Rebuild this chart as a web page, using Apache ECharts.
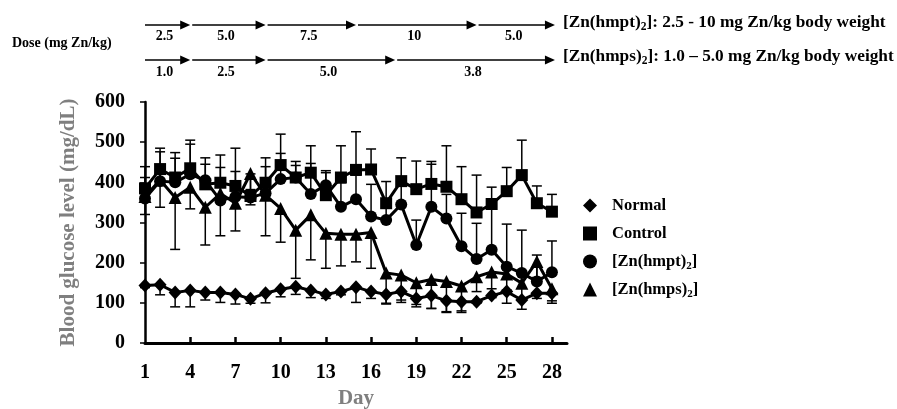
<!DOCTYPE html>
<html><head><meta charset="utf-8">
<script src="https://cdn.jsdelivr.net/npm/echarts@6/dist/echarts.min.js"></script>
<style>html,body{margin:0;padding:0;background:#fff}#c{width:897px;height:409px}</style>
</head><body><div id="c"></div>
<script>
const days = [1,2,3,4,5,6,7,8,9,10,11,12,13,14,15,16,17,18,19,20,21,22,23,24,25,26,27,28];
const xTickLabels = [1,4,7,10,13,16,19,22,25,28];
const yTicks = [0,100,200,300,400,500,600];

const normal    = [143,145,126,131,126,126,121,110,124,134,140,131,121,128,139,128,121,128,111,118,105,103,103,118,128,107,124,124];
const normalErr = [5,25,36,41,19,25,24,11,24,19,19,18,10,8,38,17,24,27,21,32,29,27,4,5,29,23,13,25];
const control    = [385,433,412,435,395,399,391,366,399,443,412,424,368,412,431,432,348,403,383,396,389,358,325,346,378,418,348,327];
const controlErr = [27,52,62,70,66,69,94,55,62,77,40,67,56,79,95,51,54,58,70,56,102,81,93,42,59,87,43,43];
const hmpt    = [360,403,400,420,405,355,364,362,373,408,412,371,393,339,358,315,306,345,244,339,310,241,209,232,190,174,153,176];
const hmptErr = [79,73,60,75,40,82,63,20,66,64,30,76,36,60,60,80,40,50,62,106,60,82,89,115,106,107,66,78];
const hmps    = [365,406,362,388,338,372,348,422,368,335,281,319,273,271,271,275,174,169,150,158,153,142,165,177,172,149,203,135];
const hmpsErr = [45,68,129,54,94,105,69,78,101,84,120,112,87,79,69,89,75,62,54,72,75,62,37,42,40,40,40,30];

const seriesNames = ['Normal','Control','[Zn(hmpt)2]','[Zn(hmps)2]'];

const hmptDoseDays = [1,4,9,15,23,28.2];
const hmptDoses = ['2.5','5.0','7.5','10','5.0'];
const hmpsDoseDays = [1,4,9,17.6,28.2];
const hmpsDoses = ['1.0','2.5','5.0','3.8'];
const doseTitle = 'Dose (mg Zn/kg)';
const hmptText = '[Zn(hmpt){sub|2}]: 2.5 - 10 mg Zn/kg body weight';
const hmpsText = '[Zn(hmps){sub|2}]: 1.0 \u2013 5.0 mg Zn/kg body weight';

const FONT = '"Liberation Serif", "DejaVu Serif", serif';
const chart = echarts.init(document.getElementById('c'));

function errSeries(vals, errs, dir) {
  return {
    type: 'custom', z: 1, silent: true,
    data: days.map((d, i) => [d, vals[i], errs[i]]),
    renderItem: function (params, api) {
      const p0 = api.coord([api.value(0), api.value(1)]);
      const p1 = api.coord([api.value(0), api.value(1) + dir * api.value(2)]);
      const st = { stroke: '#000', lineWidth: 1.5 };
      return { type: 'group', children: [
        { type: 'line', shape: { x1: p0[0], y1: p0[1], x2: p1[0], y2: p1[1] }, style: st },
        { type: 'line', shape: { x1: p1[0] - 5, y1: p1[1], x2: p1[0] + 5, y2: p1[1] }, style: st }
      ]};
    }
  };
}
function lineSeries(name, vals, symbol, size) {
  return {
    name: name, type: 'line', z: 3, symbol: symbol, symbolSize: size,
    data: days.map((d, i) => [d, vals[i]]),
    lineStyle: { color: '#000', width: 3 },
    itemStyle: { color: '#000' },
    emphasis: { disabled: true }, animation: false
  };
}

const option = {
  animation: false,
  grid: { left: 145, right: 330, top: 102, bottom: 66, containLabel: false, outerBoundsMode: 'none' },
  xAxis: {
    type: 'value', min: 1, max: 29,
    name: 'Day', nameLocation: 'middle', nameGap: 44,
    nameTextStyle: { color: '#7f7f7f', fontSize: 21, fontWeight: 'bold', fontFamily: FONT },
    axisLine: { lineStyle: { color: '#000', width: 3 } },
    axisTick: { inside: true, length: 6, lineStyle: { color: '#000', width: 2.5 }, customValues: xTickLabels.slice(1) },
    axisLabel: { customValues: xTickLabels, color: '#000', fontSize: 20, fontWeight: 'bold', fontFamily: FONT, margin: 20 },
    splitLine: { show: false }
  },
  yAxis: {
    type: 'value', min: 0, max: 600, interval: 100,
    name: 'Blood glucose level (mg/dL)', nameLocation: 'middle', nameGap: 66,
    nameTextStyle: { color: '#7f7f7f', fontSize: 21, fontWeight: 'bold', fontFamily: FONT },
    axisLine: { show: true, lineStyle: { color: '#000', width: 2.5 } },
    axisTick: { show: true, length: 5, lineStyle: { color: '#000', width: 1.5 } },
    axisLabel: { color: '#000', fontSize: 20, fontWeight: 'bold', fontFamily: FONT, margin: 20 },
    splitLine: { show: false }
  },
  legend: {
    orient: 'vertical', left: 578, top: 190, itemGap: 7,
    itemWidth: 14, itemHeight: 14, selectedMode: false,
    data: [
      { name: seriesNames[0], icon: 'diamond' },
      { name: seriesNames[1], icon: 'rect' },
      { name: seriesNames[2], icon: 'circle' },
      { name: seriesNames[3], icon: 'triangle' }
    ],
    itemStyle: { color: '#000' },
    formatter: n => n.replace(')2]', '){sub|2}]'),
    textStyle: {
      color: '#000', fontSize: 16.5, fontWeight: 'bold', fontFamily: FONT, lineHeight: 21,
      padding: [0, 0, 0, 10],
      rich: { sub: { fontSize: 11, fontWeight: 'bold', fontFamily: FONT, verticalAlign: 'bottom' } }
    }
  },
  series: [
    errSeries(normal, normalErr, -1),
    errSeries(control, controlErr, 1),
    errSeries(hmpt, hmptErr, 1),
    errSeries(hmps, hmpsErr, -1),
    lineSeries(seriesNames[0], normal, 'diamond', [13, 14]),
    lineSeries(seriesNames[1], control, 'rect', 12),
    lineSeries(seriesNames[2], hmpt, 'circle', 12),
    lineSeries(seriesNames[3], hmps, 'triangle', 13)
  ]
};
chart.setOption(option);

function px(d) { return chart.convertToPixel({ xAxisIndex: 0 }, d); }
const g = [];
function arrowRow(bounds, labels, yLine, yLabel, rightText, yText) {
  for (let i = 0; i < labels.length; i++) {
    const x0 = px(bounds[i]) + (i > 0 ? 2 : 0);
    const x1 = px(bounds[i + 1]);
    g.push({ type: 'line', shape: { x1: x0, y1: yLine, x2: x1 - 6, y2: yLine }, style: { stroke: '#000', lineWidth: 1.5 } });
    g.push({ type: 'polygon', shape: { points: [[x1 - 10, yLine - 4.5], [x1, yLine], [x1 - 10, yLine + 4.5]] }, style: { fill: '#000' } });
    g.push({ type: 'text', style: { text: labels[i], x: (x0 + x1) / 2 - 3, y: yLabel, textAlign: 'center', textVerticalAlign: 'middle',
      fontSize: 14, fontWeight: 'bold', fontFamily: FONT, fill: '#000' } });
  }
  g.push({ type: 'text', style: { text: rightText, x: px(bounds[bounds.length - 1]) + 8, y: yText, textAlign: 'left', textVerticalAlign: 'middle',
    fontSize: 17.3, fontWeight: 'bold', fontFamily: FONT, fill: '#000', lineHeight: 21,
    rich: { sub: { fontSize: 11.5, fontWeight: 'bold', fontFamily: FONT, fill: '#000', verticalAlign: 'bottom' } } } });
}
arrowRow(hmptDoseDays, hmptDoses, 25, 36, hmptText, 23);
arrowRow(hmpsDoseDays, hmpsDoses, 60, 72, hmpsText, 57);
g.push({ type: 'text', style: { text: doseTitle, x: 12, y: 43, textAlign: 'left', textVerticalAlign: 'middle',
  fontSize: 14, fontWeight: 'bold', fontFamily: FONT, fill: '#000' } });
chart.setOption({ graphic: g });
</script>
</body></html>
